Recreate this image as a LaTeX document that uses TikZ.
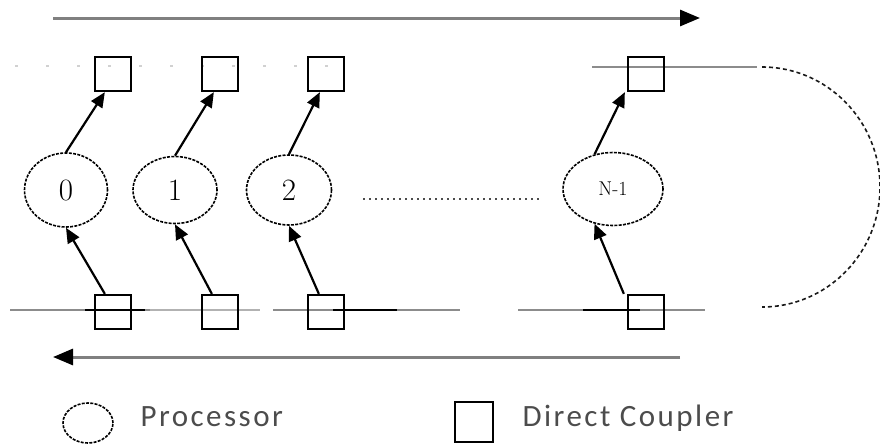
\documentclass[tikz,border=0pt]{standalone}
\usepackage{fontspec}
\newfontfamily\legendfont[LetterSpace=8]{Carlito}
\usetikzlibrary{arrows.meta,shapes.geometric}

\begin{document}
\begin{tikzpicture}[x=1pt,y=-1pt,
  proc/.style={ellipse,draw=black,line width=1.6pt,dash pattern=on 3pt off 1.3pt,inner sep=0pt},
  coupler/.style={rectangle,draw,line width=2.3pt,minimum width=36pt,minimum height=34pt,inner sep=0pt},
  link/.style={line width=2.2pt,-{Triangle[length=15pt,width=13pt]}},
  bus/.style={line width=3pt,black!50,-{Triangle[length=20pt,width=16pt,color=black]}},
  ring/.style={line width=1.5pt,black!45},
  tap/.style={line width=2pt,black},
  ringarc/.style={line width=1.6pt,black!90,dash pattern=on 4pt off 3pt},
  dotline/.style={line width=1.5pt,black!70,dash pattern=on 1.5pt off 4.5pt},
  numlabel/.style={font=\fontsize{31}{33}\selectfont},
  legend/.style={font=\legendfont\fontsize{31}{34}\selectfont,text=black!70,anchor=base west}
]
\useasboundingbox (0,0) rectangle (880,445);

% outer buses
\coordinate (tbL) at (53,18);
\coordinate (tbR) at (700,18);
\coordinate (bbL) at (53,357);
\coordinate (bbR) at (680,357);
\draw[bus] (tbL) -- (tbR);
\draw[bus] (bbR) -- (bbL);

% upper ring line
\coordinate (ru1) at (15,66);
\coordinate (ru2) at (345,66);
\coordinate (ru3) at (592,67);
\coordinate (ru4) at (757,67);
\draw[line width=1.2pt,black!18,dash pattern=on 3pt off 28pt] (ru1) -- (ru2);
\draw[ring] (ru3) -- (ru4);

% lower ring line segments
\coordinate (rl1) at (10,310);  \coordinate (rl2) at (150,310);
\coordinate (rl3) at (150,310); \coordinate (rl4) at (260,310);
\coordinate (rl5) at (273,310); \coordinate (rl6) at (460,310);
\coordinate (rl7) at (518,310); \coordinate (rl8) at (705,310);
\draw[ring] (rl1) -- (rl2);
\draw[ring,black!30] (rl3) -- (rl4);
\draw[ring] (rl5) -- (rl6);
\draw[ring] (rl7) -- (rl8);
\coordinate (d1) at (85,310);  \coordinate (d2) at (145,310);
\coordinate (d3) at (333,310); \coordinate (d4) at (397,310);
\coordinate (d5) at (583,310); \coordinate (d6) at (640,310);
\draw[tap] (d1) -- (d2);
\draw[tap] (d3) -- (d4);
\draw[tap] (d5) -- (d6);

% ring return loop
\coordinate (arcS) at (762,67);
\draw[ringarc] (arcS) arc[start angle=-90,end angle=90,x radius=118,y radius=120];

% processors
\node[proc,numlabel,minimum width=83pt,minimum height=74pt] (c0) at (66,190) {0};
\node[proc,numlabel,minimum width=84pt,minimum height=67pt] (c1) at (175,190) {1};
\node[proc,numlabel,minimum width=85pt,minimum height=70pt] (c2) at (289,190) {2};
\node[proc,font=\fontsize{20}{22}\selectfont,minimum width=100pt,minimum height=73pt] (cN) at (613,189) {N-1};

% couplers
\node[coupler] (t0) at (113,74) {};
\node[coupler] (t1) at (220,74) {};
\node[coupler] (t2) at (326,74) {};
\node[coupler] (t3) at (646,74) {};
\node[coupler] (b0) at (113,312) {};
\node[coupler] (b1) at (220,312) {};
\node[coupler] (b2) at (326,312) {};
\node[coupler] (b3) at (646,312) {};

% gap between processor 2 and N-1
\coordinate (g1) at (363,199);
\coordinate (g2) at (543,199);
\draw[dotline] (g1) -- (g2);

% processor to upper coupler
\draw[link] (c0.north) -- ([xshift=11pt]t0.south west);
\draw[link] (c1.north) -- ([xshift=13pt]t1.south west);
\draw[link] (c2.north) -- ([xshift=13pt]t2.south west);
\draw[link] (cN.118) -- ([xshift=-2pt]t3.south west);

% lower coupler to processor
\draw[link] ([xshift=11pt]b0.north west) -- (c0.south);
\draw[link] ([xshift=11pt]b1.north west) -- (c1.south);
\draw[link] ([xshift=12pt]b2.north west) -- (c2.south);
\draw[link] ([xshift=-3pt]b3.north west) -- (cN.242);

% legend
\node[proc,minimum width=50pt,minimum height=40pt] (lp) at (88,423) {};
\node[legend] (lpt) at (137,426) {Processor};
\node[coupler,minimum width=38pt,minimum height=40pt] (lc) at (474,422) {};
\node[legend] (lct) at (519,426) {Direct Coupler};
\end{tikzpicture}
\end{document}
